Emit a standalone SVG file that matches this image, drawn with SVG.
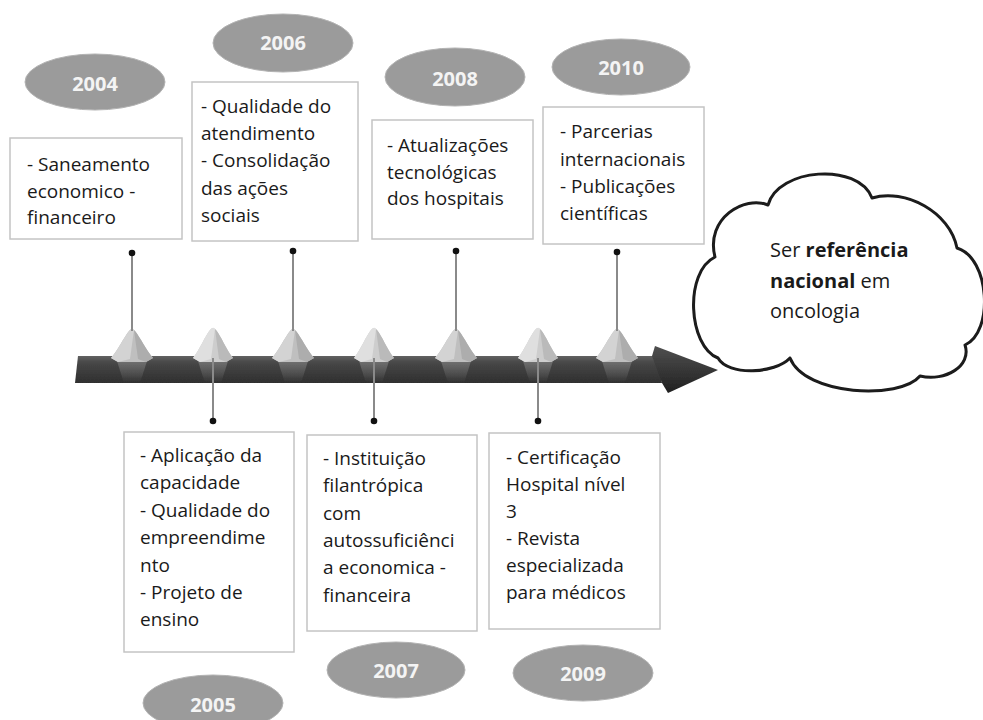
<svg xmlns="http://www.w3.org/2000/svg" xmlns:xlink="http://www.w3.org/1999/xlink" width="983" height="720" viewBox="0 0 983 720">
  <style>
    .box { fill: #ffffff; stroke: #c4c4c4; stroke-width: 1.5; }
    .txt { font-family: "Open Sans", "Noto Sans", sans-serif; font-size: 19px; fill: #1a1a1a; }
    .year { fill: #9b9b9b; stroke: #b3b3b3; stroke-width: 1; }
    .ytxt { font-family: "Open Sans", "Noto Sans", sans-serif; font-size: 20px; font-weight: 700; fill: #f4f4f4; text-anchor: middle; }
    .stem { stroke: #8a8a8a; stroke-width: 2; }
    .dot { fill: #111111; }
    .cloud { fill: #ffffff; stroke: #1a1a1a; stroke-width: 3; stroke-linejoin: round; }
    .ctxt { font-family: "Open Sans", "Noto Sans", sans-serif; font-size: 20px; fill: #1a1a1a; }
  </style>
  <defs>
    <linearGradient id="barGrad" x1="0" y1="0" x2="0" y2="1">
      <stop offset="0" stop-color="#626262"/>
      <stop offset="0.25" stop-color="#474747"/>
      <stop offset="1" stop-color="#2f2f2f"/>
    </linearGradient>
    <linearGradient id="headGrad" x1="0" y1="0" x2="0" y2="1">
      <stop offset="0" stop-color="#505050"/>
      <stop offset="1" stop-color="#1f1f1f"/>
    </linearGradient>
    <linearGradient id="reflGrad" x1="0" y1="0" x2="0" y2="1">
      <stop offset="0" stop-color="#9a9a9a" stop-opacity="0.55"/>
      <stop offset="1" stop-color="#9a9a9a" stop-opacity="0"/>
    </linearGradient>
    <filter id="soft" x="-5%" y="-5%" width="110%" height="110%">
      <feGaussianBlur stdDeviation="0.7"/>
    </filter>
    <!-- rounded faceted marker sitting on the timeline bar -->
    <g id="gem">
      <path d="M-16,358 L16,358 L8,383 L-8,383 Z" fill="url(#reflGrad)"/>
      <path d="M-21,358 C-14,350 -8,337 -3,331 Q0,327 3,331 C8,337 14,350 21,358 L14,362 L-14,362 Z" fill="#bfbfbf"/>
      <path d="M-21,358 C-14,350 -8,337 -3,331 Q0,327 2,330 L-2,359 L-14,362 Z" fill="#d3d3d3"/>
      <path d="M2,330 L3,331 C8,337 14,350 21,358 L14,362 L6,359 Z" fill="#adadad"/>
    </g>
    <g id="gemLight">
      <path d="M-16,358 L16,358 L8,383 L-8,383 Z" fill="url(#reflGrad)"/>
      <path d="M-20,358 C-13,349 -8,336 -3,330 Q0,326 3,330 C8,336 13,349 20,358 L13,362 L-13,362 Z" fill="#cdcdcd"/>
      <path d="M-20,358 C-13,349 -8,336 -3,330 Q0,326 2,329 L-2,359 L-13,362 Z" fill="#dfdfdf"/>
      <path d="M2,329 L3,330 C8,336 13,349 20,358 L13,362 L6,359 Z" fill="#bababa"/>
    </g>
  </defs>

  <rect width="983" height="720" fill="#ffffff"/>

  <!-- timeline arrow -->
  <g id="timeline" filter="url(#soft)">
    <path d="M78,356 L656,356 L662,383 L75,383 Z" fill="url(#barGrad)"/>
    <path d="M652,356 L655,346 L718,370 L668,393 L662,383 Z" fill="url(#headGrad)"/>
    <use xlink:href="#gem" x="132"/>
    <use xlink:href="#gemLight" x="213"/>
    <use xlink:href="#gem" x="293"/>
    <use xlink:href="#gemLight" x="374"/>
    <use xlink:href="#gem" x="456"/>
    <use xlink:href="#gemLight" x="538"/>
    <use xlink:href="#gem" x="617"/>
  </g>

  <!-- stems joining the boxes to the timeline -->
  <g id="connectors">
    <line class="stem" x1="132" y1="253" x2="132" y2="331"/>
    <line class="stem" x1="293" y1="251" x2="293" y2="331"/>
    <line class="stem" x1="456" y1="251" x2="456" y2="331"/>
    <line class="stem" x1="617" y1="252" x2="617" y2="331"/>
    <line class="stem" x1="213" y1="358" x2="213" y2="421"/>
    <line class="stem" x1="374" y1="358" x2="374" y2="421"/>
    <line class="stem" x1="538" y1="358" x2="538" y2="421"/>
    <circle class="dot" cx="132" cy="253" r="3.3"/>
    <circle class="dot" cx="293" cy="251" r="3.3"/>
    <circle class="dot" cx="456" cy="251" r="3.3"/>
    <circle class="dot" cx="617" cy="252" r="3.3"/>
    <circle class="dot" cx="213" cy="421" r="3.3"/>
    <circle class="dot" cx="374" cy="421" r="3.3"/>
    <circle class="dot" cx="538" cy="421" r="3.3"/>
  </g>

  <!-- 2004 -->
  <g id="y2004">
    <ellipse class="year" cx="95" cy="82" rx="70" ry="28"/>
    <text class="ytxt" x="95" y="91">2004</text>
    <rect class="box" x="10" y="138" width="172" height="101"/>
    <text class="txt" x="27" y="171">- Saneamento</text>
    <text class="txt" x="27" y="198">economico -</text>
    <text class="txt" x="27" y="224">financeiro</text>
  </g>

  <!-- 2006 -->
  <g id="y2006">
    <ellipse class="year" cx="283" cy="43" rx="70" ry="29"/>
    <text class="ytxt" x="283" y="50">2006</text>
    <rect class="box" x="192" y="82" width="166" height="159"/>
    <text class="txt" x="201" y="113">- Qualidade do</text>
    <text class="txt" x="201" y="140">atendimento</text>
    <text class="txt" x="201" y="167">- Consolidação</text>
    <text class="txt" x="201" y="195">das ações</text>
    <text class="txt" x="201" y="222">sociais</text>
  </g>

  <!-- 2008 -->
  <g id="y2008">
    <ellipse class="year" cx="455" cy="77" rx="70" ry="29"/>
    <text class="ytxt" x="455" y="86">2008</text>
    <rect class="box" x="372" y="120" width="161" height="119"/>
    <text class="txt" x="387" y="152">- Atualizações</text>
    <text class="txt" x="387" y="179">tecnológicas</text>
    <text class="txt" x="387" y="205">dos hospitais</text>
  </g>

  <!-- 2010 -->
  <g id="y2010">
    <ellipse class="year" cx="621" cy="67" rx="69" ry="28"/>
    <text class="ytxt" x="621" y="75">2010</text>
    <rect class="box" x="543" y="107" width="161" height="137"/>
    <text class="txt" x="560" y="138">- Parcerias</text>
    <text class="txt" x="560" y="166">internacionais</text>
    <text class="txt" x="560" y="193">- Publicações</text>
    <text class="txt" x="560" y="220">científicas</text>
  </g>

  <!-- 2005 -->
  <g id="y2005">
    <rect class="box" x="124" y="432" width="170" height="220"/>
    <text class="txt" x="140" y="462">- Aplicação da</text>
    <text class="txt" x="140" y="489">capacidade</text>
    <text class="txt" x="140" y="517">- Qualidade do</text>
    <text class="txt" x="140" y="544">empreendime</text>
    <text class="txt" x="140" y="572">nto</text>
    <text class="txt" x="140" y="599">- Projeto de</text>
    <text class="txt" x="140" y="626">ensino</text>
    <ellipse class="year" cx="213" cy="703" rx="70" ry="28"/>
    <text class="ytxt" x="213" y="712">2005</text>
  </g>

  <!-- 2007 -->
  <g id="y2007">
    <rect class="box" x="307" y="435" width="170" height="196"/>
    <text class="txt" x="323" y="465">- Instituição</text>
    <text class="txt" x="323" y="492">filantrópica</text>
    <text class="txt" x="323" y="520">com</text>
    <text class="txt" x="323" y="547">autossuficiênci</text>
    <text class="txt" x="323" y="574">a economica -</text>
    <text class="txt" x="323" y="602">financeira</text>
    <ellipse class="year" cx="396" cy="670" rx="69" ry="28"/>
    <text class="ytxt" x="396" y="678">2007</text>
  </g>

  <!-- 2009 -->
  <g id="y2009">
    <rect class="box" x="489" y="433" width="171" height="196"/>
    <text class="txt" x="506" y="464">- Certificação</text>
    <text class="txt" x="506" y="491">Hospital nível</text>
    <text class="txt" x="506" y="518">3</text>
    <text class="txt" x="506" y="545">- Revista</text>
    <text class="txt" x="506" y="572">especializada</text>
    <text class="txt" x="506" y="599">para médicos</text>
    <ellipse class="year" cx="583" cy="673" rx="70" ry="28"/>
    <text class="ytxt" x="583" y="681">2009</text>
  </g>

  <!-- goal cloud -->
  <g id="goal">
    <path class="cloud" filter="url(#soft)" d="M768,205 C778,168 858,162 872,198 C905,188 950,212 957,248 C990,258 994,332 965,345 C972,366 945,382 920,376 C900,400 805,396 790,358 C775,374 728,376 718,358 C688,346 684,272 715,257 C705,218 745,195 768,205 Z"/>
    <text class="ctxt" x="770" y="257">Ser <tspan font-weight="700">referência</tspan></text>
    <text class="ctxt" x="770" y="288"><tspan font-weight="700">nacional</tspan> em</text>
    <text class="ctxt" x="770" y="318">oncologia</text>
  </g>
</svg>
